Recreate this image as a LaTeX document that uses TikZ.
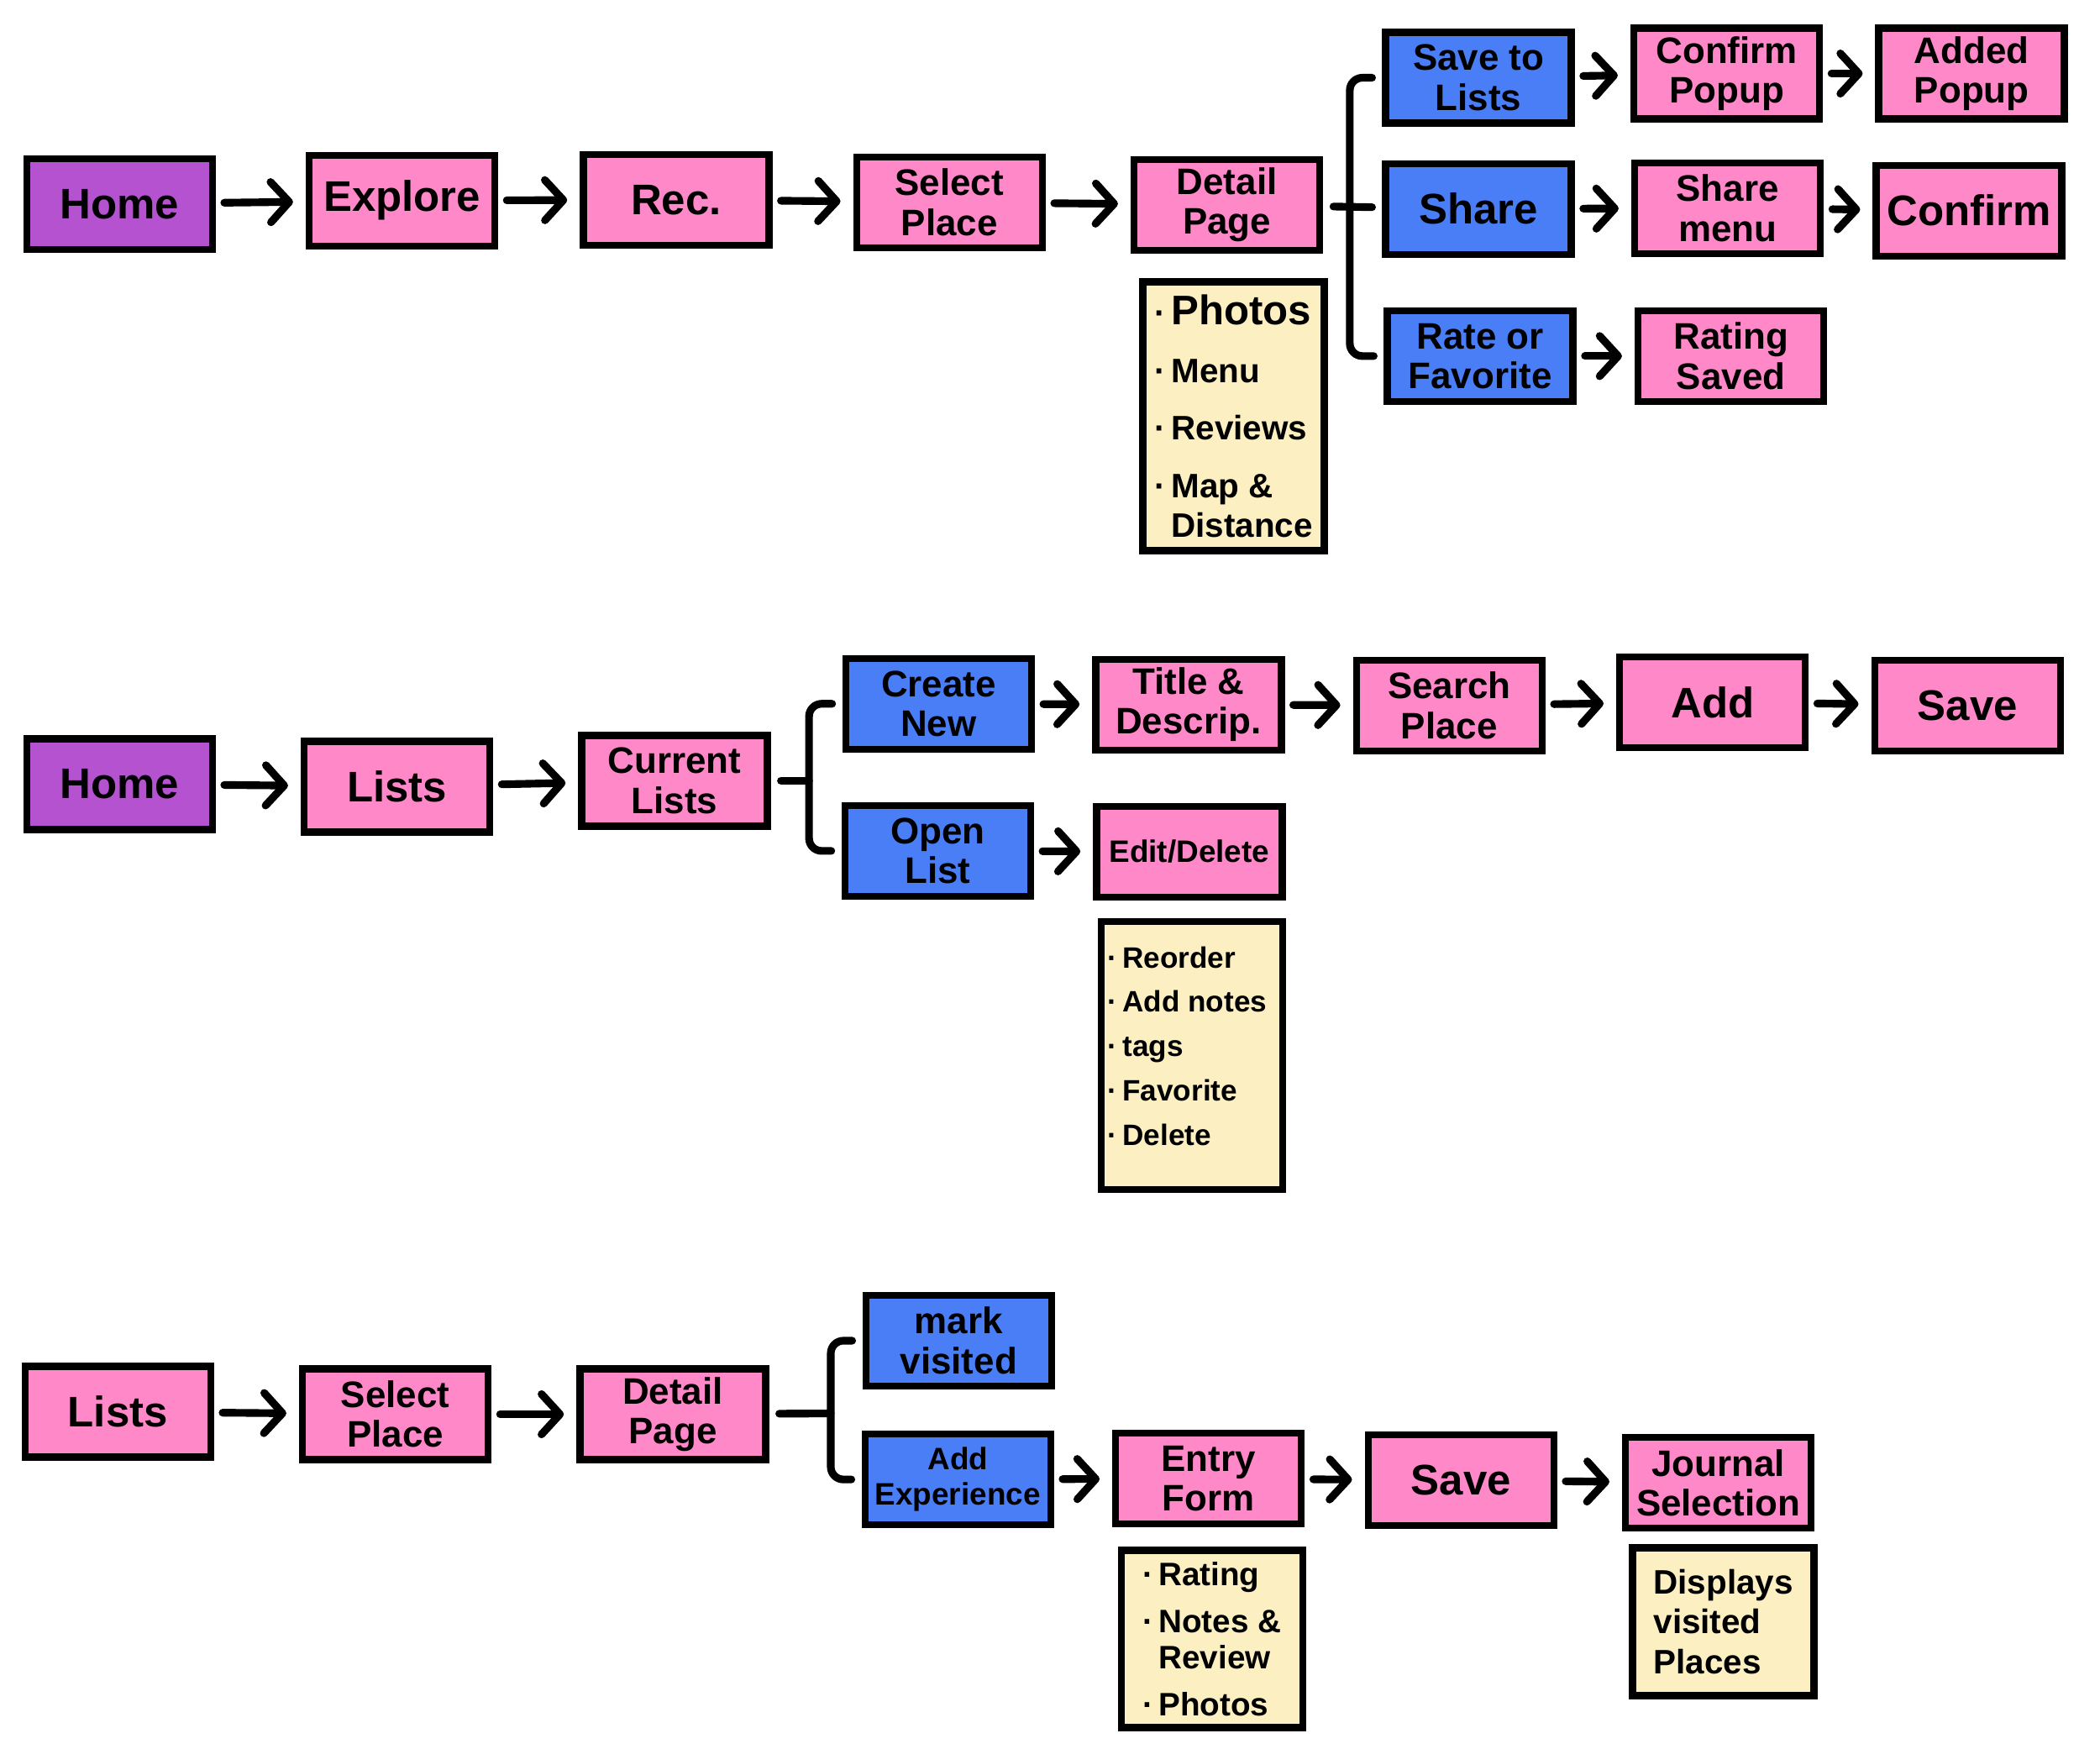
\documentclass[tikz,border=0pt]{standalone}
\usepackage{fontspec}
\setmainfont{Liberation Sans}
\usetikzlibrary{arrows.meta}

\definecolor{homepurple}{HTML}{B452CF}
\definecolor{pagepink}{HTML}{FF88C8}
\definecolor{actionblue}{HTML}{4A7EF7}
\definecolor{notecream}{HTML}{FCEFC2}

\begin{document}
\begin{tikzpicture}[x=0.995cm, y=0.995cm,
      box/.style = {draw, line width=2.4pt, minimum width=2.21cm,
        minimum height=1.08cm, inner sep=1pt, align=center,
        font=\fontsize{12.5}{13.5}\selectfont\bfseries},
      page/.style = {box, fill=pagepink},
      home/.style = {box, fill=homepurple},
      action/.style = {box, fill=actionblue},
      big/.style = {font=\fontsize{14.5}{17}\selectfont\bfseries},
      small/.style = {font=\fontsize{10.5}{12}\selectfont\bfseries},
      note/.style = {draw, line width=2.4pt, fill=notecream, minimum width=2.16cm,
        inner xsep=0.08cm, inner ysep=0.1cm, align=left,
        font=\fontsize{11.5}{13.5}\selectfont\bfseries},
      flow/.style = {line width=2.6pt, line cap=round,
        -{Straight Barb[round, length=2.2mm, width=4.8mm]},
        shorten <=1mm, shorten >=1.5mm},
      fork/.style = {line width=2.6pt, line cap=round, rounded corners=1.5mm,
        shorten <=1.2mm, shorten >=1.2mm}]
      \useasboundingbox (0,0) rectangle (25.126,-20.915);

      % explore flow
      \node (hm1) [home, big] at (1.43,-2.44) {Home};
      \node (ex) [page, big] at (4.81,-2.40) {Explore};
      \node (rc) [page, big] at (8.09,-2.39) {Rec.};
      \node (sp1) [page] at (11.36,-2.42) {Select\\Place};
      \node (dp1) [page] at (14.68,-2.45) {Detail\\Page};
      \node (inf1) [note, minimum height=3.2cm] at (14.76,-4.98)
        {·\,{\fontsize{14}{14}\selectfont Photos}\\[6pt] ·\,Menu\\[6pt] ·\,Reviews\\[6pt]
        ·\,Map \&\\ \phantom{·\,}Distance};
      \node (sl) [action] at (17.69,-0.93) {Save to\\Lists};
      \node (sh) [action, big] at (17.69,-2.50) {Share};
      \node (rf) [action] at (17.71,-4.26) {Rate or\\Favorite};
      \node (cp) [page] at (20.66,-0.88) {Confirm\\Popup};
      \node (ap) [page] at (23.59,-0.88) {Added\\Popup};
      \node (sm) [page] at (20.67,-2.49) {Share\\menu};
      \node (cf) [page, big] at (23.56,-2.52) {Confirm};
      \node (rs) [page] at (20.71,-4.26) {Rating\\Saved};
      \coordinate (fk1) at (16.15,-2.45);
      \draw[flow] (hm1) -- (ex);
      \draw[flow] (ex) -- (rc);
      \draw[flow] (rc) -- (sp1);
      \draw[flow] (sp1) -- (dp1);
      \draw[fork] (sl.west) -| (fk1) |- (rf.west);
      \draw[fork] (dp1) -- (sh);
      \draw[flow] (sl) -- (cp);
      \draw[flow] (cp) -- (ap);
      \draw[flow] (sh) -- (sm);
      \draw[flow] (sm) -- (cf);
      \draw[flow] (rf) -- (rs);

      % lists flow
      \node (hm2) [home, big] at (1.43,-9.38) {Home};
      \node (ls2) [page, big] at (4.75,-9.41) {Lists};
      \node (cl) [page] at (8.07,-9.34) {Current\\Lists};
      \node (cn) [action] at (11.23,-8.42) {Create\\New};
      \node (ol) [action] at (11.22,-10.18) {Open\\List};
      \node (td) [page] at (14.22,-8.43) {Title \&\\Descrip.};
      \node (sc) [page] at (17.34,-8.44) {Search\\Place};
      \node (ad) [page, big] at (20.49,-8.40) {Add};
      \node (sv2) [page, big] at (23.54,-8.44) {Save};
      \node (ed) [page, small] at (14.23,-10.19) {Edit/Delete};
      \node (inf2) [note, minimum height=3.19cm, font=\fontsize{10}{15}\selectfont\bfseries]
        at (14.26,-12.63) {\parbox[c][2.95cm][t]{2.0cm}{\vspace*{5pt}·\,Reorder\\ ·\,Add notes\\
        ·\,tags\\ ·\,Favorite\\ ·\,Delete}};
      \coordinate (fk2) at (9.68,-9.34);
      \draw[flow] (hm2) -- (ls2);
      \draw[flow] (ls2) -- (cl);
      \draw[fork, shorten >=0pt] (cl) -- (fk2);
      \draw[fork] (cn.west) -| (fk2) |- (ol.west);
      \draw[flow] (cn) -- (td);
      \draw[flow] (td) -- (sc);
      \draw[flow] (sc) -- (ad);
      \draw[flow] (ad) -- (sv2);
      \draw[flow] (ol) -- (ed);

      % journal flow
      \node (ls3) [page, big] at (1.41,-16.89) {Lists};
      \node (sp3) [page] at (4.73,-16.92) {Select\\Place};
      \node (dp3) [page] at (8.05,-16.92) {Detail\\Page};
      \node (mv) [action] at (11.47,-16.04) {mark\\visited};
      \node (ae) [action, small] at (11.46,-17.70) {Add\\Experience};
      \node (ef) [page] at (14.46,-17.69) {Entry\\Form};
      \node (sv3) [page, big] at (17.48,-17.71) {Save};
      \node (js) [page] at (20.56,-17.74) {Journal\\Selection};
      \node (inf3) [note, minimum height=2.11cm, font=\fontsize{11}{12}\selectfont\bfseries]
        at (14.50,-19.61) {·\,Rating\\[4pt] ·\,Notes \&\\ \phantom{·\,}Review\\[4pt] ·\,Photos};
      \node (inf4) [note, minimum height=1.76cm] at (20.62,-19.40) {Displays\\visited\\Places};
      \coordinate (fk3) at (9.94,-16.91);
      \draw[flow] (ls3) -- (sp3);
      \draw[flow] (sp3) -- (dp3);
      \draw[fork, shorten >=0pt] (dp3) -- (fk3);
      \draw[fork] (mv.west) -| (fk3) |- (ae.west);
      \draw[flow] (ae) -- (ef);
      \draw[flow] (ef) -- (sv3);
      \draw[flow] (sv3) -- (js);
    \end{tikzpicture}
\end{document}
